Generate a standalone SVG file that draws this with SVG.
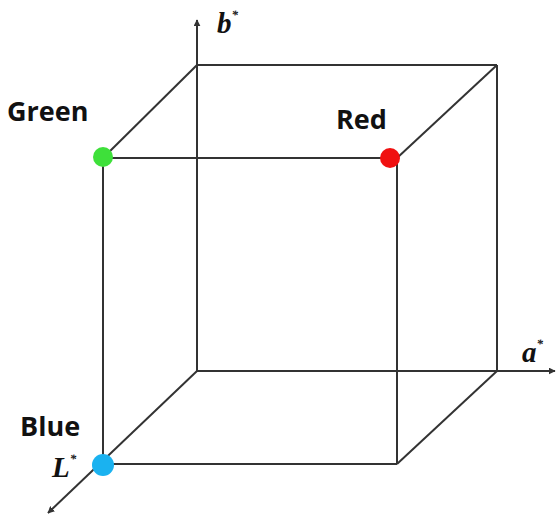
<svg xmlns="http://www.w3.org/2000/svg" width="557" height="517" viewBox="0 0 557 517">
<style>
.e{stroke:#333;stroke-width:2;fill:none}
.lab{font-family:"Open Sans","Liberation Sans",sans-serif;font-weight:bold;font-size:27px;fill:#111}
.ax{font-family:"Liberation Serif",serif;font-weight:bold;font-style:italic;font-size:29px;fill:#111}
.sup{font-size:13px}
</style>
<defs>
<marker id="arr" viewBox="0 0 10 10" refX="9" refY="5" markerWidth="7" markerHeight="7" orient="auto-start-reverse" markerUnits="userSpaceOnUse">
<path d="M0,0 L10,5 L0,10 z" fill="#333"/>
</marker>
</defs>
<rect width="557" height="517" fill="#fff"/>
<g id="connectors">
<line class="e" x1="197" y1="65" x2="497" y2="65"/>
<line class="e" x1="497" y1="65" x2="497" y2="371"/>
<line class="e" x1="103" y1="158" x2="397" y2="158"/>
<line class="e" x1="103" y1="158" x2="103" y2="464"/>
<line class="e" x1="397" y1="158" x2="397" y2="464"/>
<line class="e" x1="103" y1="464" x2="397" y2="464"/>
<line class="e" x1="103" y1="158" x2="197" y2="65"/>
<line class="e" x1="397" y1="158" x2="497" y2="65"/>
<line class="e" x1="397" y1="464" x2="497" y2="371"/>
<line class="e" x1="197" y1="371" x2="197" y2="20" marker-end="url(#arr)"/>
<line class="e" x1="197" y1="371" x2="555" y2="371" marker-end="url(#arr)"/>
<line class="e" x1="197" y1="371" x2="48" y2="513" marker-end="url(#arr)"/>
</g>
<g id="green"><circle cx="103" cy="157" r="10" fill="#3ee03a"/><text class="lab" x="7" y="121">Green</text></g>
<g id="red"><circle cx="390" cy="158" r="10" fill="#f01010"/><text class="lab" x="336" y="129">Red</text></g>
<g id="blue"><circle cx="103" cy="465" r="11" fill="#1ab2f0"/><text class="lab" x="20" y="436">Blue</text></g>
<g id="b-axis"><text class="ax" x="217" y="33">b<tspan class="sup" dy="-14">*</tspan></text></g>
<g id="a-axis"><text class="ax" x="522" y="362">a<tspan class="sup" dy="-14">*</tspan></text></g>
<g id="L-axis"><text class="ax" x="52" y="477">L<tspan class="sup" dy="-14">*</tspan></text></g>
</svg>
